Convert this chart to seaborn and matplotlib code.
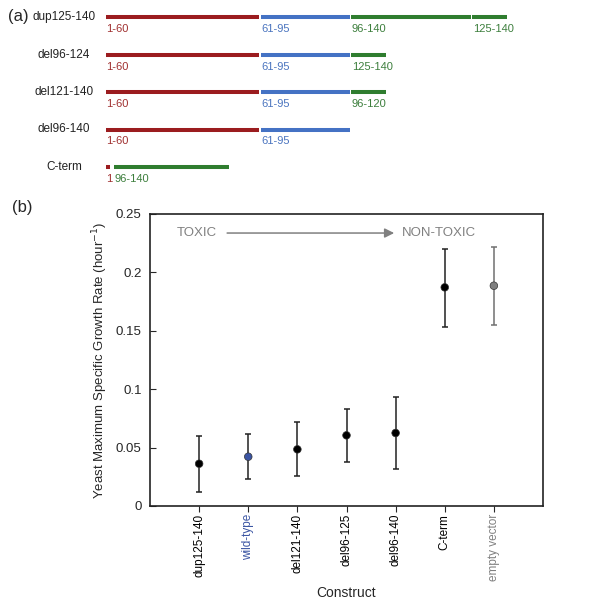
import numpy as np
import pandas as pd
import seaborn as sns
import matplotlib.pyplot as plt

# ── data: panel (a) construct maps ─────────────────────────────
row_names = ['dup125-140', 'del96-124', 'del121-140', 'del96-140', 'C-term']
seg_row    = [0, 0, 0, 0, 1, 1, 1, 2, 2, 2, 3, 3, 4, 4]
seg_start  = [0, 60, 95, 142, 0, 60, 95, 0, 60, 95, 0, 60, 0, 3.0]
seg_end    = [60, 95, 142, 156, 60, 95, 109, 60, 95, 109, 60, 95, 2.2, 48.4]
seg_region = ['N', 'M', 'C', 'C', 'N', 'M', 'C', 'N', 'M', 'C', 'N', 'M', 'N', 'C']
seg_label  = ['1-60', '61-95', '96-140', '125-140',
              '1-60', '61-95', '125-140',
              '1-60', '61-95', '96-120',
              '1-60', '61-95',
              '1', '96-140']

# ── data: panel (b) growth rates ───────────────────────────────
constructs = ['dup125-140', 'wild-type', 'del121-140', 'del96-125',
              'del96-140', 'C-term', 'empty vector']
growth     = [0.0362, 0.0422, 0.0485, 0.0605, 0.0625, 0.1872, 0.1886]
err_low    = [0.0123, 0.0231, 0.0257, 0.0380, 0.0317, 0.1535, 0.1550]
err_high   = [0.0602, 0.0614, 0.0722, 0.0830, 0.0936, 0.2203, 0.2217]

region_colors = {'N': '#9b1c1f', 'M': '#4472c4', 'C': '#2f7d2f'}
label_colors  = {'N': '#a03030', 'M': '#4a74bf', 'C': '#3d7f3d'}
point_colors  = ['black', '#3b55a3', 'black', 'black', 'black', 'black', '#7f7f7f']
bar_colors    = ['#222222'] * 6 + ['#707070']
tick_colors   = ['black', '#3b55a3', 'black', 'black', 'black', 'black', '#808080']

sns.set_theme(style='ticks')
plt.rcParams['font.family'] = ['Liberation Sans', 'DejaVu Sans']

W, H = 604, 606
fig = plt.figure(figsize=(W / 100, H / 100), dpi=100)

# ── (a) construct diagram ──────────────────────────────────────
ax_a = fig.add_axes([106 / W, 1 - 190 / H, 498 / W, 190 / H])
ax_a.set_xlim(0, 498 / 2.58)
ax_a.set_ylim((190 - 17) / 37.5, -17 / 37.5)
ax_a.axis('off')

for r, s, e, reg, lab in zip(seg_row, seg_start, seg_end, seg_region, seg_label):
    ax_a.hlines(r, s, e - 0.6, color=region_colors[reg], lw=2.9)
    ax_a.text(s + 0.2, r + 0.32, lab, color=label_colors[reg], fontsize=8,
              ha='left', va='center')

for i, name in enumerate(row_names):
    ax_a.text(-16.3, i, name, fontsize=8.5, ha='center', va='center',
              color='#222222', clip_on=False)

fig.text(18 / W, 1 - 16 / H, '(a)', fontsize=12, ha='center', va='center')
fig.text(22 / W, 1 - 208 / H, '(b)', fontsize=12, ha='center', va='center')

# ── (b) growth rate plot ───────────────────────────────────────
ax = fig.add_axes([150 / W, 1 - 506 / H, 393 / W, 292 / H])
pos = np.arange(1, len(constructs) + 1)
df = pd.DataFrame({'pos': pos, 'growth': growth, 'construct': constructs})

for x, y, lo, hi, bc in zip(pos, growth, err_low, err_high, bar_colors):
    ax.errorbar(x, y, yerr=[[y - lo], [hi - y]], fmt='none', ecolor=bc,
                elinewidth=1.1, capsize=2.5, capthick=1.1, zorder=2)

sns.scatterplot(data=df, x='pos', y='growth', hue='construct',
                palette=dict(zip(constructs, point_colors)), s=30,
                edgecolor='#333333', linewidth=0.5, legend=False, zorder=3, ax=ax)

ax.set_xlim(0, 8)
ax.set_ylim(0, 0.25)
ax.set_yticks([0, 0.05, 0.1, 0.15, 0.2, 0.25])
ax.set_yticklabels(['0', '0.05', '0.1', '0.15', '0.2', '0.25'], fontsize=9.5)
ax.set_xticks(pos)
ax.set_xticklabels(constructs, rotation=90, fontsize=8.5)
for t, c in zip(ax.get_xticklabels(), tick_colors):
    t.set_color(c)
ax.tick_params(axis='y', direction='in', length=4, width=0.8, pad=6)
ax.tick_params(axis='x', direction='out', length=4, width=0.8, pad=1.5)
for sp in ax.spines.values():
    sp.set_linewidth(1.2)
    sp.set_color('#222222')

ax.set_xlabel('Construct', fontsize=10, labelpad=4)
ax.set_ylabel('Yeast Maximum Specific Growth Rate (hour$^{-1}$)', fontsize=9.5,
              labelpad=4)

ax.annotate('', xy=(4.97, 0.2337), xytext=(1.57, 0.2337),
            arrowprops=dict(arrowstyle='-|>', color='#808080', lw=1.1,
                            mutation_scale=14, shrinkA=0, shrinkB=0))
ax.text(0.55, 0.2337, 'TOXIC', color='#808080', fontsize=9.5, ha='left', va='center')
ax.text(5.13, 0.2337, 'NON-TOXIC', color='#808080', fontsize=9.5, ha='left', va='center')

fig.savefig('out.png', dpi=100)
